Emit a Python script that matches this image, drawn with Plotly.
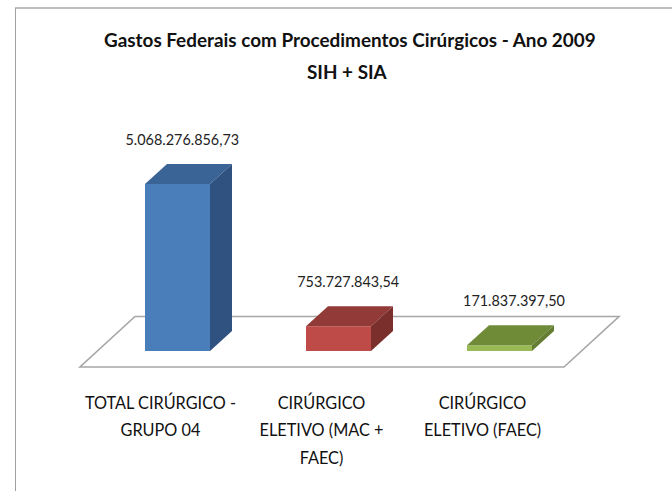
import plotly.graph_objects as go

# ---- data ----
categories = [["TOTAL CIRÚRGICO -", "GRUPO 04"], ["CIRÚRGICO", "ELETIVO (MAC +", "FAEC)"], ["CIRÚRGICO", "ELETIVO (FAEC)"]]
values = [5068276856.73, 753727843.54, 171837397.50]
value_labels = ["5.068.276.856,73", "753.727.843,54", "171.837.397,50"]
title_lines = ["Gastos Federais com Procedimentos Cirúrgicos - Ano 2009", "SIH + SIA"]

front_colors = ["#4a7ebb", "#be4b48", "#98b954"]
top_colors = ["#3a6496", "#923a37", "#6f8b38"]
side_colors = ["#2f5280", "#7a2f2d", "#647d32"]

# ---- page geometry (pixels) ----
W, H = 672, 491
STEP = 161.0           # px per category
X0 = 177.5             # px centre of category 0
BAR_W = 65 / STEP      # bar width in category units
PX_PER_VALUE = 167 / values[0]
BASE_PX = 351          # px row of value 0
PLOT_BOTTOM = 387
PLOT_TOP = 0
DX = 22 / STEP                 # depth offset, x
DY = 20 / PX_PER_VALUE         # depth offset, y
TICK_SHIFT = -17 / STEP        # the 3D projection puts the axis labels left of the bars
LABEL_SPREAD = 1.03            # value labels are spaced slightly wider than the bars
LABEL_SHIFT = 0.03

x_range = [-X0 / STEP, (W - X0) / STEP]
y_range = [-(PLOT_BOTTOM - BASE_PX) / PX_PER_VALUE, (BASE_PX - PLOT_TOP) / PX_PER_VALUE]
centers = list(range(len(values)))
ticktext = ["<br>".join(f'<span style="font-size:16.3px">{t}</span>' for t in lines) for lines in categories]

fig = go.Figure()

# front faces
fig.add_trace(go.Bar(x=centers, y=values, width=BAR_W, marker=dict(color=front_colors, line=dict(width=0)),
                     hoverinfo="skip", showlegend=False))

# top and side faces, derived from the values
for c, v, tc, sc in zip(centers, values, top_colors, side_colors):
    l, r = c - BAR_W / 2, c + BAR_W / 2
    fig.add_trace(go.Scatter(x=[l, r, r + DX, l + DX, l], y=[v, v, v + DY, v + DY, v], fill="toself",
                             fillcolor=tc, mode="lines", line=dict(width=0, color=tc),
                             hoverinfo="skip", showlegend=False))
    fig.add_trace(go.Scatter(x=[r, r + DX, r + DX, r, r], y=[0, DY, v + DY, v, 0], fill="toself",
                             fillcolor=sc, mode="lines", line=dict(width=0, color=sc),
                             hoverinfo="skip", showlegend=False))

# value labels
fig.add_trace(go.Scatter(x=[c * LABEL_SPREAD + LABEL_SHIFT for c in centers],
                         y=[v + DY + 22.5 / PX_PER_VALUE for v in values],
                         mode="text", text=value_labels, textposition="middle center",
                         textfont=dict(family="Lato", size=14.4, color="#222222"),
                         hoverinfo="skip", showlegend=False))

# floor
fl, fr = (80 - X0) / STEP, (564 - X0) / STEP
bl, br = (135 - X0) / STEP, (619 - X0) / STEP
fy, by = -(367 - BASE_PX) / PX_PER_VALUE, (BASE_PX - 316.5) / PX_PER_VALUE
shapes = [
    dict(type="path", layer="below", xref="x", yref="y",
         path=f"M{fl},{fy} L{fr},{fy} L{br},{by} L{bl},{by} Z",
         fillcolor="white", line=dict(color="#a6a6a6", width=1.6)),
    # slide frame
    dict(type="line", xref="paper", yref="paper", x0=15.5 / W, x1=15.5 / W, y0=0, y1=1 - 8 / H,
         line=dict(color="#a0a0a0", width=1)),
    dict(type="line", xref="paper", yref="paper", x0=15 / W, x1=1, y0=1 - 8 / H, y1=1 - 8 / H,
         line=dict(color="#a8a8a8", width=1.5)),
]

annotations = [
    dict(text=title_lines[0], x=350 / W, y=1 - 40 / H, xref="paper", yref="paper", showarrow=False,
         xanchor="center", yanchor="middle", font=dict(family="Lato", size=18.9, color="#111111", weight="bold")),
    dict(text=title_lines[1], x=347 / W, y=1 - 71.5 / H, xref="paper", yref="paper", showarrow=False,
         xanchor="center", yanchor="middle", font=dict(family="Lato", size=18.9, color="#111111", weight="bold")),
]

fig.update_layout(
    width=W, height=H, margin=dict(l=0, r=0, t=0, b=0),
    paper_bgcolor="white", plot_bgcolor="rgba(0,0,0,0)", showlegend=False,
    shapes=shapes, annotations=annotations,
    xaxis=dict(domain=[0, 1], range=x_range, tickmode="array", tickvals=[c + TICK_SHIFT for c in centers],
               ticktext=ticktext, showgrid=False, zeroline=False, showline=False, ticks="",
               tickfont=dict(family="Lato", size=21, color="#111111")),
    yaxis=dict(domain=[1 - PLOT_BOTTOM / H, 1 - PLOT_TOP / H], range=y_range, visible=False),
)
fig.write_html("out.html", post_script="document.body.style.margin='0';",
               config={"displayModeBar": False})
